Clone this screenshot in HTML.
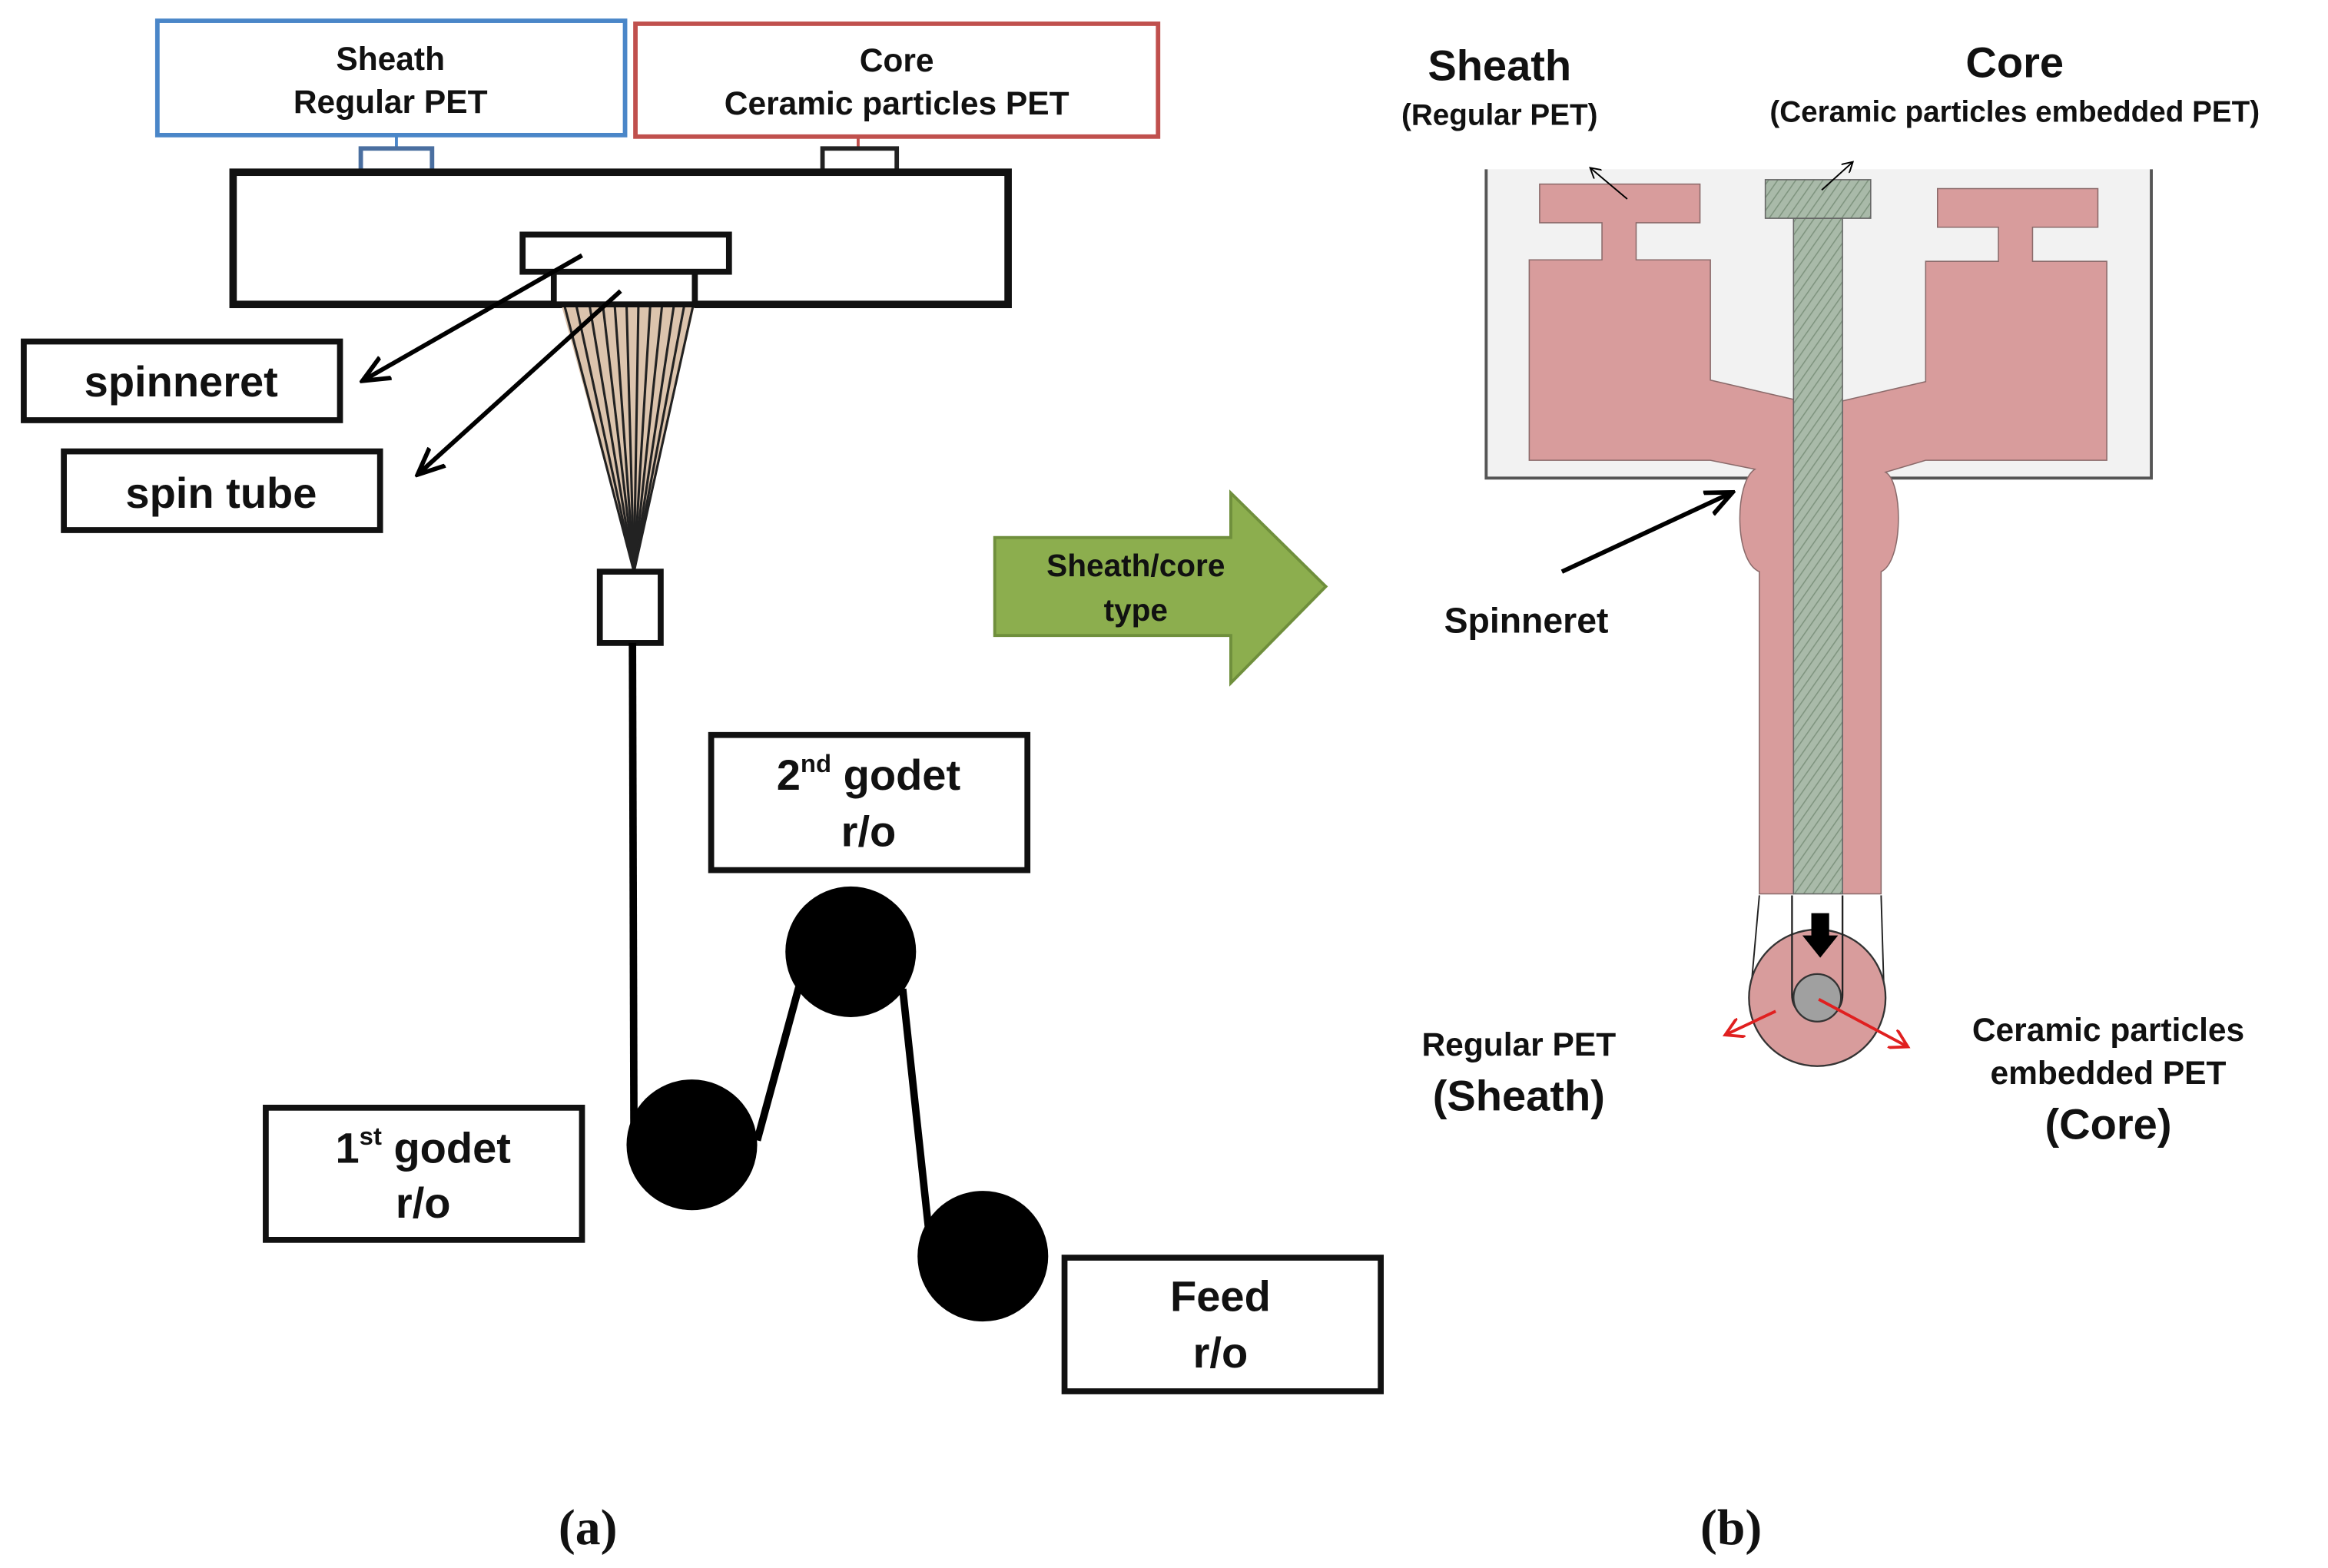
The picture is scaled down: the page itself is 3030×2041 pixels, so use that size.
<!DOCTYPE html>
<html><head><meta charset="utf-8"><style>
html,body{margin:0;padding:0;background:#fff;}
svg{display:block;}
text{font-family:"Liberation Sans","NanumGothic",sans-serif;font-weight:bold;fill:#111;}
</style></head><body>
<svg width="3030" height="2041" viewBox="0 0 1568 1056" preserveAspectRatio="none" xmlns="http://www.w3.org/2000/svg">
<defs>
<pattern id="hatch" width="5" height="5" patternUnits="userSpaceOnUse" patternTransform="rotate(35)">
<rect width="5" height="5" fill="#a9baa9"/><line x1="0" y1="0" x2="0" y2="5" stroke="#7f947f" stroke-width="1.6"/>
</pattern>
<marker id="ah" markerWidth="10" markerHeight="10" refX="8" refY="5" orient="auto" markerUnits="userSpaceOnUse"><path d="M0,0 L9,5 L0,10" fill="none" stroke="#000" stroke-width="2.5"/></marker>
<marker id="ahb" markerWidth="20" markerHeight="20" refX="17" refY="10" orient="auto" markerUnits="userSpaceOnUse"><path d="M0,2 L18,10 L0,18" fill="none" stroke="#000" stroke-width="3"/></marker>
<marker id="ahr" markerWidth="14" markerHeight="14" refX="12" refY="7" orient="auto" markerUnits="userSpaceOnUse"><path d="M0,0 L12,7 L0,14" fill="none" stroke="#e02020" stroke-width="2"/></marker>
<marker id="aht" markerWidth="8" markerHeight="8" refX="7" refY="4" orient="auto" markerUnits="userSpaceOnUse"><path d="M0,0 L7,4 L0,8" fill="none" stroke="#000" stroke-width="1"/></marker>
</defs>

<!-- LEFT PANEL -->
<rect x="106" y="14" width="315" height="77" fill="#fff" stroke="#4a86c8" stroke-width="3"/>
<text x="263" y="47" font-size="22" text-anchor="middle">Sheath</text>
<text x="263" y="76" font-size="22" text-anchor="middle">Regular PET</text>
<rect x="428" y="16" width="352" height="76" fill="#fff" stroke="#c0504d" stroke-width="3"/>
<text x="604" y="48" font-size="22" text-anchor="middle">Core</text>
<text x="604" y="77" font-size="22" text-anchor="middle">Ceramic particles PET</text>
<line x1="267" y1="91" x2="267" y2="100" stroke="#4a86c8" stroke-width="2"/>
<rect x="243" y="100" width="48" height="15" fill="#fff" stroke="#4a6fa0" stroke-width="3"/>
<line x1="578" y1="92" x2="578" y2="100" stroke="#c0504d" stroke-width="2"/>
<rect x="554" y="100" width="50" height="15" fill="#fff" stroke="#222" stroke-width="3"/>
<rect x="157" y="116" width="522" height="89" fill="#fff" stroke="#111" stroke-width="5"/>
<!-- fibers -->
<g stroke="#222" stroke-width="1.6">
<path d="M378,205 L427,385 L468,205 Z" fill="#dcc4ad" stroke="none"/>
<line x1="380" y1="205" x2="427" y2="385"/><line x1="388" y1="205" x2="427" y2="385"/><line x1="397" y1="205" x2="427" y2="385"/><line x1="406" y1="205" x2="427" y2="385"/><line x1="414" y1="205" x2="427" y2="385"/><line x1="422" y1="205" x2="427" y2="385"/><line x1="430" y1="205" x2="427" y2="385"/><line x1="438" y1="205" x2="427" y2="385"/><line x1="446" y1="205" x2="427" y2="385"/><line x1="454" y1="205" x2="427" y2="385"/><line x1="461" y1="205" x2="427" y2="385"/><line x1="467" y1="205" x2="427" y2="385"/>
</g>
<rect x="373" y="183" width="95" height="22" fill="#fff" stroke="#111" stroke-width="4"/>
<rect x="352" y="158" width="139" height="25" fill="#fff" stroke="#111" stroke-width="4"/>
<rect x="404" y="385" width="41" height="48" fill="#fff" stroke="#111" stroke-width="4"/>
<line x1="392" y1="172" x2="245" y2="256" stroke="#000" stroke-width="3" marker-end="url(#ahb)"/>
<line x1="418" y1="196" x2="282" y2="319" stroke="#000" stroke-width="3" marker-end="url(#ahb)"/>
<rect x="16" y="230" width="213" height="53" fill="#fff" stroke="#111" stroke-width="4"/>
<text x="122" y="267" font-size="29" text-anchor="middle">spinneret</text>
<rect x="43" y="304" width="213" height="53" fill="#fff" stroke="#111" stroke-width="4"/>
<text x="149" y="342" font-size="29" text-anchor="middle">spin tube</text>
<!-- yarn path -->
<g stroke="#000" stroke-width="5" fill="none">
<line x1="426" y1="433" x2="427" y2="770"/>
<line x1="510" y1="768" x2="538" y2="665"/>
<line x1="608" y1="666" x2="626" y2="833"/>
</g>
<circle cx="466" cy="771" r="44" fill="#000"/>
<circle cx="573" cy="641" r="44" fill="#000"/>
<circle cx="662" cy="846" r="44" fill="#000"/>
<rect x="479" y="495" width="213" height="91" fill="#fff" stroke="#111" stroke-width="4"/>
<text x="585" y="532" font-size="29" text-anchor="middle">2<tspan font-size="17" dy="-12">nd</tspan><tspan dy="12"> godet</tspan></text>
<text x="585" y="570" font-size="29" text-anchor="middle">r/o</text>
<rect x="179" y="746" width="213" height="89" fill="#fff" stroke="#111" stroke-width="4"/>
<text x="285" y="783" font-size="29" text-anchor="middle">1<tspan font-size="17" dy="-12">st</tspan><tspan dy="12"> godet</tspan></text>
<text x="285" y="820" font-size="29" text-anchor="middle">r/o</text>
<rect x="717" y="847" width="213" height="90" fill="#fff" stroke="#111" stroke-width="4"/>
<text x="822" y="883" font-size="29" text-anchor="middle">Feed</text>
<text x="822" y="921" font-size="29" text-anchor="middle">r/o</text>

<!-- green arrow -->
<path d="M670,362 L829,362 L829,332 L893,395 L829,460 L829,428 L670,428 Z" fill="#8cae4e" stroke="#6f8f3c" stroke-width="2"/>
<text x="765" y="388" font-size="21" text-anchor="middle">Sheath/core</text>
<text x="765" y="418" font-size="21" text-anchor="middle">type</text>

<!-- RIGHT PANEL -->
<rect x="1001" y="114" width="448" height="208" fill="#f2f2f2"/>
<path d="M1001,114 L1001,322 L1449,322 L1449,114" fill="none" stroke="#555" stroke-width="2"/>
<g fill="#d89c9c" stroke="#8a6a6a" stroke-width="0.8">
<path d="M1037,124 L1145,124 L1145,150 L1102,150 L1102,175 L1152,175 L1152,256 L1208,269 L1208,602 L1185,602 L1185,385 C1168,378 1168,325 1182,316 L1152,310 L1030,310 L1030,175 L1079,175 L1079,150 L1037,150 Z"/>
<path d="M1305,127 L1413,127 L1413,153 L1369,153 L1369,176 L1419,176 L1419,310 L1297,310 L1270,318 C1282,325 1282,378 1267,385 L1267,602 L1241,602 L1241,270 L1297,257 L1297,176 L1346,176 L1346,153 L1305,153 Z"/>
</g>
<rect x="1208" y="147" width="33" height="455" fill="url(#hatch)" stroke="#666" stroke-width="0.8"/>
<rect x="1189" y="121" width="71" height="26" fill="url(#hatch)" stroke="#666" stroke-width="0.8"/>
<g stroke="#222" stroke-width="1">
<line x1="1185" y1="603" x2="1179" y2="670"/><line x1="1267" y1="603" x2="1269" y2="670"/>
</g>
<circle cx="1224" cy="672" r="46" fill="#d89c9c" stroke="#333" stroke-width="1.2"/>
<path d="M1207,603 L1207,670 A17,17 0 0 0 1241,670 L1241,603" fill="none" stroke="#222" stroke-width="1.2"/>
<circle cx="1224" cy="672" r="16" fill="#a0a0a0" stroke="#333" stroke-width="1.2"/>
<path d="M1220,615 L1232,615 L1232,630 L1238,630 L1226,645 L1214,630 L1220,630 Z" fill="#000"/>
<line x1="1196" y1="681" x2="1162" y2="697" stroke="#e02020" stroke-width="2" marker-end="url(#ahr)"/>
<line x1="1225" y1="673" x2="1285" y2="705" stroke="#e02020" stroke-width="2" marker-end="url(#ahr)"/>
<line x1="1096" y1="134" x2="1071" y2="113" stroke="#000" stroke-width="1" marker-end="url(#aht)"/>
<line x1="1227" y1="128" x2="1248" y2="109" stroke="#000" stroke-width="1" marker-end="url(#aht)"/>
<line x1="1052" y1="385" x2="1166" y2="332" stroke="#000" stroke-width="3" marker-end="url(#ahb)"/>

<text x="1010" y="54" font-size="29" text-anchor="middle">Sheath</text>
<text x="1010" y="84" font-size="20" text-anchor="middle">(Regular PET)</text>
<text x="1357" y="52" font-size="29" text-anchor="middle">Core</text>
<text x="1357" y="82" font-size="20" text-anchor="middle">(Ceramic particles embedded PET)</text>
<text x="1028" y="426" font-size="24" text-anchor="middle">Spinneret</text>
<text x="1023" y="711" font-size="22" text-anchor="middle">Regular PET</text>
<text x="1023" y="748" font-size="29" text-anchor="middle">(Sheath)</text>
<text x="1420" y="701" font-size="22" text-anchor="middle">Ceramic particles</text>
<text x="1420" y="730" font-size="22" text-anchor="middle">embedded PET</text>
<text x="1420" y="767" font-size="29" text-anchor="middle">(Core)</text>

<text x="396" y="1040" font-size="34" text-anchor="middle" style="font-family:'Liberation Serif',serif">(a)</text>
<text x="1166" y="1040" font-size="34" text-anchor="middle" style="font-family:'Liberation Serif',serif">(b)</text>
</svg>
</body></html>
